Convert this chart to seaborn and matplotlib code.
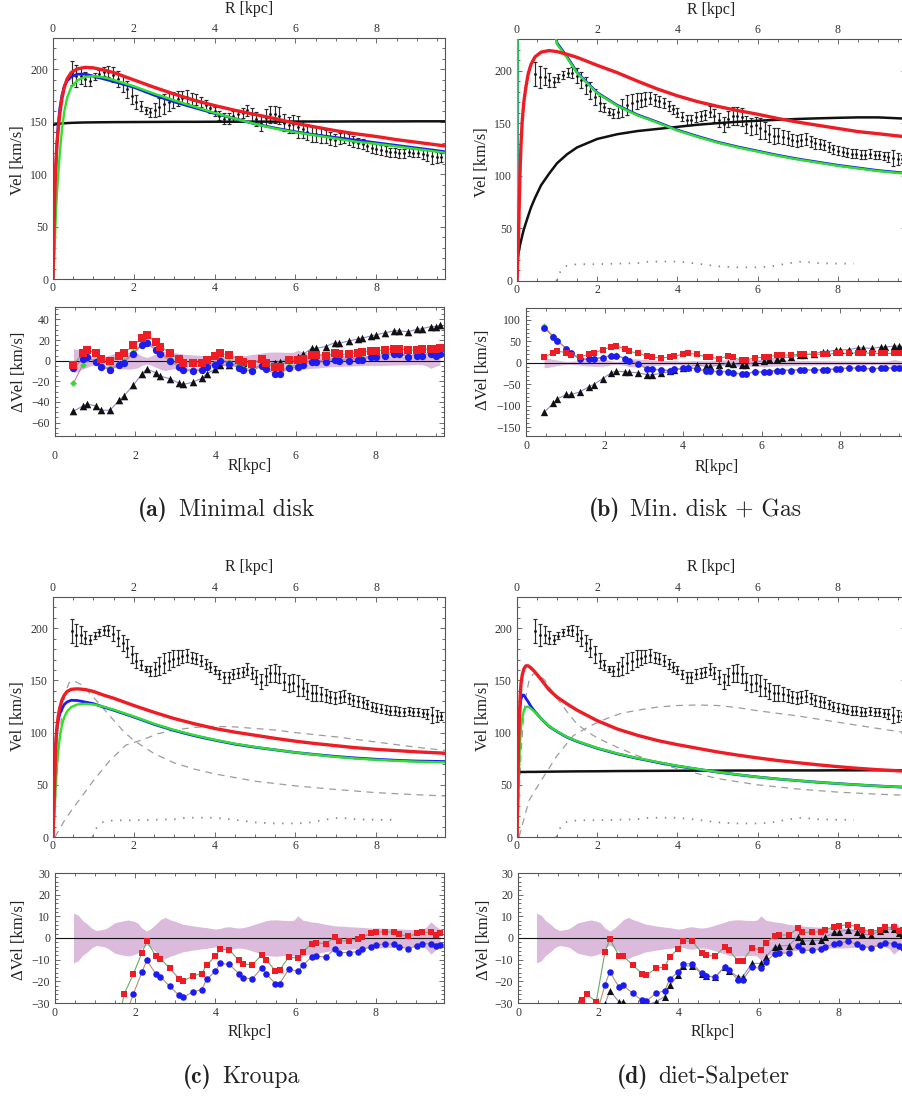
import matplotlib
matplotlib.use("Agg")
import matplotlib.pyplot as plt
import seaborn as sns
from matplotlib.ticker import MultipleLocator

# ---------------- observed rotation curve (shared by all panels) ----------------
R_OBS = [0.46, 0.58, 0.69, 0.80, 0.92, 1.03, 1.15, 1.26, 1.37, 1.49, 1.60, 1.72, 1.83, 1.95,
         2.06, 2.17, 2.29, 2.40, 2.52, 2.63, 2.75, 2.86, 2.98, 3.09, 3.20, 3.32, 3.43, 3.55,
         3.66, 3.78, 3.89, 4.00, 4.12, 4.23, 4.35, 4.46, 4.58, 4.69, 4.81, 4.92, 5.03, 5.15,
         5.26, 5.38, 5.49, 5.60, 5.72, 5.83, 5.95, 6.06, 6.18, 6.29, 6.40, 6.52, 6.63, 6.75,
         6.86, 6.97, 7.09, 7.20, 7.32, 7.43, 7.55, 7.66, 7.77, 7.89, 8.00, 8.12, 8.23, 8.35,
         8.46, 8.57, 8.69, 8.80, 8.92, 9.03, 9.15, 9.26, 9.37, 9.49, 9.60]
V_OBS = [197, 194, 194, 191, 189, 193, 196, 198, 198, 195, 191, 186, 181, 175,
         169, 165, 161, 159, 161, 164, 167, 169, 171, 172, 173, 174, 172, 171,
         169, 166, 163, 160, 156, 153, 153, 156, 157, 158, 161, 157, 153, 149,
         154, 157, 157, 156, 149, 147, 148, 145, 143, 140, 138, 138, 137, 136,
         134, 133, 134, 135, 133, 131, 130, 129, 127, 125, 124, 123, 122, 121,
         121, 120, 120, 121, 120, 120, 119, 118, 117, 116, 116]
E_OBS = [11.5, 10.5, 8, 6.5, 4.5, 3.5, 3.8, 4.2, 5.5, 7, 7.5, 8, 8.3, 7.8,
         7, 4.5, 3.2, 4.5, 6.5, 8.5, 9.5, 8.5, 7.8, 7, 6.3, 6, 5.6, 5.3,
         5, 4.8, 4.4, 4.1, 4.4, 5, 5.2, 4.8, 4.6, 4.8, 5.3, 6, 6.6, 7.3,
         8, 8.3, 8.4, 8.3, 8.1, 8, 8.2, 10.2, 8.2, 7.8, 7.4, 7.2, 6.8, 6.3,
         6, 5.6, 5.5, 5.4, 5.2, 5.1, 5, 4.9, 4.7, 4.6, 4.6, 4.6, 4.5, 4.4,
         4.3, 4.2, 4.1, 4, 3.8, 3.6, 4, 5, 7.5, 5.5, 4.2]

# ---------------- model curves ----------------
CURVE_R = [0, 0.02, 0.04, 0.06, 0.08, 0.1, 0.13, 0.17, 0.22, 0.28, 0.35, 0.45, 0.6, 0.8,
           1.0, 1.25, 1.5, 2.0, 2.5, 3.0, 3.5, 4.0, 4.5, 5.0, 5.5, 6.0, 6.5, 7.0, 7.5,
           8.0, 8.5, 9.0, 9.7]

A_RED = [0, 40, 75, 100, 117, 130, 143, 158, 172, 183, 191, 197, 200.5, 202, 201.5, 199.5,
         197, 190, 183, 176.5, 170.5, 165.5, 161, 157, 153, 148.5, 145, 141.5, 138.5, 136,
         133, 130.5, 127]
A_BLUE = [0, 45, 80, 100, 115, 130, 148, 163, 175, 184, 189, 193, 195.5, 195.5, 193.6, 191,
          188.5, 183, 175.5, 169, 163.5, 158, 153, 148, 144, 140.5, 137.5, 135, 132.5, 130,
          127.5, 125, 121.5]
A_GREEN = [0, 12, 28, 50, 69, 83, 100, 121, 142, 160, 173, 183, 189.5, 193, 193.6, 192.5,
           190, 184, 177, 170.5, 164.5, 158.5, 153, 148, 143.5, 140, 137, 134, 131, 129,
           126.5, 124, 120.5]
A_BLACK = [147, 147.2, 147.4, 147.6, 147.7, 147.8, 148, 148.2, 148.4, 148.6, 148.8, 149,
           149.2, 149.4, 149.5, 149.6, 149.7, 149.8, 149.9, 150, 150, 150.1, 150.1, 150.2,
           150.2, 150.3, 150.3, 150.3, 150.4, 150.4, 150.4, 150.5, 150.5]

B_RED = [0, 22, 46, 80, 109, 130, 152, 170, 184, 197, 206, 213, 217.5, 219, 218, 215.5,
         212.5, 205, 198, 190, 182.5, 176, 170.5, 166, 162, 158.5, 154.5, 151, 148, 145,
         142, 140, 137]
B_BLUE = [0, 300, 600, 650, 650, 640, 620, 580, 530, 480, 430, 380, 320, 262, 226, 213,
          198, 179, 167, 158, 151, 143.5, 137.5, 132, 127.5, 123.5, 119.5, 116, 113, 110,
          107.5, 105, 102.5]
B_GREEN = [0, 290, 590, 640, 640, 630, 610, 570, 520, 470, 420, 372, 315, 260, 225, 212,
           197.5, 178.5, 166.5, 157.5, 150.5, 143, 137, 131.5, 127, 123, 119, 115.5, 112.5,
           109.5, 107, 104.5, 102]
B_BLACK = [17, 22, 27, 31, 35, 38, 43, 49, 55, 62, 70, 79, 91, 102, 112, 120.5, 127, 135,
           139.5, 142.5, 144.5, 146.5, 148.5, 150, 151.3, 152.3, 153.2, 154, 154.6, 155.1,
           155.5, 155.5, 154.3]

C_RED = [0, 28, 51, 78, 96, 106, 116, 124, 131, 136, 139.5, 141.5, 142, 141.3, 139.5, 136,
         133, 126, 119.5, 113.5, 108.5, 104, 100.5, 97.5, 94.5, 91.8, 89.5, 87.5, 85.5, 84,
         82.8, 81.6, 80.3]
C_BLUE = [0, 40, 64, 84, 96, 104, 112, 118, 123, 127, 129.5, 131, 130.8, 129.3, 127.8,
          124.5, 121.5, 115, 108, 102, 97, 92.8, 89, 86, 83.5, 81, 79, 77.2, 75.7, 74.5,
          73.5, 72.8, 72.3]
C_GREEN = [0, 10, 25, 42, 57, 70, 83, 96, 107, 115, 120.5, 124.5, 127, 127.6, 127, 125,
           122, 115.5, 108.5, 102.5, 97.5, 93.2, 89.4, 86.3, 83.6, 81, 78.8, 76.8, 75.2, 74,
           73, 72.2, 71.5]

D_RED = [0, 52, 92, 115, 135, 147, 155, 161, 164, 164, 162, 158, 151, 141, 134, 127.5,
         121.5, 111.5, 103.5, 97.5, 92.5, 88.5, 85, 81.5, 78.5, 75.8, 73.3, 71.2, 69.2,
         67.4, 65.8, 64.5, 63]
D_BLUE = [0, 60, 98, 115, 126, 132, 136, 136, 133, 129.5, 125, 120, 113.5, 106, 101, 95.5,
          91.5, 85, 79.7, 75.3, 71.5, 68, 65, 62.2, 59.7, 57.5, 55.6, 54, 52.5, 51.2, 50,
          48.9, 47.6]
D_GREEN = [0, 14, 48, 76, 94, 105, 114, 121, 124.5, 125, 123, 119.5, 113.5, 106.3, 101.3,
           95.8, 91.8, 85.3, 80, 75.6, 71.8, 68.2, 65.2, 62.3, 59.8, 57.5, 55.6, 54, 52.5,
           51.2, 50, 48.9, 47.6]
D_BLACK = [62.2, 62.2, 62.2, 62.2, 62.3, 62.3, 62.3, 62.3, 62.3, 62.4, 62.4, 62.4, 62.5,
           62.6, 62.7, 62.8, 62.9, 63, 63.2, 63.3, 63.4, 63.5, 63.6, 63.6, 63.7, 63.7, 63.8,
           63.8, 63.8, 63.9, 63.9, 64, 64]

# stellar bulge / disk components (dashed) and gas (dotted)
BULGE_R = [0, 0.05, 0.1, 0.15, 0.2, 0.3, 0.4, 0.5, 0.7, 1.0, 1.25, 1.5, 1.75, 2.0, 2.5,
           3.0, 3.5, 4.0, 5.0, 6.0, 7.0, 8.0, 9.0, 9.7]
C_BULGE = [0, 30, 60, 88, 110, 138, 148, 150, 146, 134, 123, 112, 101, 92.5, 80, 71, 65,
           60.5, 53.5, 49, 45.5, 42.5, 40.5, 39.3]
D_BULGE = [0, 40, 80, 108, 130, 150, 156, 157, 150, 133, 120, 108, 101, 95, 86, 78, 71,
           65.5, 56, 50, 46, 43, 41, 40]
DISK_R = [0.05, 0.3, 0.6, 1.0, 1.4, 1.8, 2.2, 2.6, 3.0, 3.5, 4.0, 4.5, 5.0, 5.5, 6.0, 6.5,
          7.0, 7.5, 8.0, 8.5, 9.0, 9.7]
C_DISK = [0, 17, 33, 54, 73, 88, 93, 99, 102.5, 105, 106, 105.5, 104, 102.5, 100, 98, 96,
          93.5, 91, 88.5, 86, 83]
D_DISK = [0, 35, 54, 78, 97, 106, 113, 118.5, 121.5, 124.5, 126, 126.5, 126, 124, 121,
          118.5, 116, 113, 110, 107, 104, 100]
GAS_R = [0.98, 1.02, 1.1, 1.2, 1.5, 2.0, 2.5, 3.0, 3.3, 3.7, 4.0, 4.5, 5.0, 5.5, 6.0, 6.3,
         6.5, 6.8, 7.1, 7.5, 8.0, 8.4]
GAS_V = [0, 5, 10, 14, 16, 16, 16.5, 17, 18.5, 18.5, 18.5, 16.5, 14, 13, 13, 13.5, 15, 17,
         18.5, 17, 16.5, 16.5]

# ---------------- residuals (observed - model) ----------------
R_RES = [0.46, 0.69, 0.80, 1.03, 1.15, 1.37, 1.60, 1.72, 1.95, 2.17, 2.29, 2.52, 2.63, 2.86,
         3.09, 3.20, 3.43, 3.66, 3.78, 4.00, 4.12, 4.35, 4.58, 4.69, 4.92, 5.15, 5.26, 5.49,
         5.60, 5.83, 6.06, 6.18, 6.40, 6.52, 6.75, 6.97, 7.09, 7.32, 7.55, 7.66, 7.89, 8.00,
         8.23, 8.46, 8.57, 8.80, 9.03, 9.15, 9.37, 9.49, 9.60]

A_RES_RED = [-4, 7, 10.5, 7, 2, -0.7, 4.5, 7, 14.8, 22, 24.5, 18, 13.5, 7.7, 1.6, -2, -2.3,
             -2, 1, 4.5, 7, 5.5, 1, -1.5, -3, 2, -2, -6, -6, 1, 0.5, 2, 5.5, 5.5, 5, 7, 6,
             6.5, 7.5, 8, 9.5, 9.5, 10.5, 11.5, 11.5, 10, 10.5, 11, 11.5, 11.5, 12]
A_RES_BLUE = [-7, 1.3, 3.5, -1.3, -6, -8.7, -4.6, -2, 6.8, 14.8, 17, 10, 6.8, 0, -6, -9.4,
              -10, -9.4, -6, -4, 0, -3, -7, -9, -10, -5, -8, -13, -13, -7, -6, -4, -1, -1,
              -1.5, 1, 0, 0, 1, 1, 4, 4, 5, 6, 6, 4, 5, 5, 6, 5, 6]
A_RES_GREEN = [-22, -4, 2, 0, -4.5, -7.5, -3.5, -0.5, 8, 16, 19, 11.5, 8, 1.5, -4.5, -8,
               -8.5, -8, -4.5, -2.5, 1.5, -1.5, -5.5, -7.5, -8.5, -3.5, -6.5, -11.5, -11.5,
               -5.5, -4.5, -2.5, 0.5, 0.5, 0, 2.5, 1.5, 1.5, 2.5, 2.5, 5, 5, 6, 7, 7, 5, 6,
               6, 7, 6, 7]
A_RES_BLACK = [-49, -44, -42, -44, -48, -48, -38.5, -34, -24, -12.6, -7.8, -12, -15, -17.5,
               -21.7, -23, -21, -17, -13, -8, -4.5, -4, -3, -2, -2, -1, -1, -2, -1, 2, 4, 6,
               12, 12, 13.7, 17.4, 17, 19, 21, 22, 24, 25, 27, 29, 29, 28, 30.5, 31, 33, 33,
               34.5]

B_RES_RED = [12.5, 24, 27, 24, 18, 14, 20, 23, 30, 37.5, 40, 32, 27, 22, 15.6, 12.5, 12,
             12.5, 15.6, 20, 22.6, 19.5, 14, 12.5, 10, 15.6, 12.5, 6, 6, 12, 12.5, 14, 18,
             18, 18, 20, 19.5, 19.5, 20, 20, 22, 22, 22, 23.4, 23.4, 22, 22, 22, 22, 22, 22]
B_RES_BLUE = [82, 61, 51.5, 32, 22, 8, 8, 8.6, 12, 16.4, 16.4, 10, 4, -3, -15, -15.6, -17,
              -18.8, -15.6, -13, -11, -15, -19.5, -20, -21, -21, -23.4, -27, -27, -21,
              -22.6, -21, -18, -18, -18, -17, -17, -17, -17, -16.4, -15, -14, -13, -12.5,
              -13, -15, -13, -13, -12.5, -12.5, -12.5]
B_RES_GREEN = [85, 62, 52.5, 33, 23, 9, 9, 9.6, 13, 17.4, 17.4, 11, 5, -2, -14, -14.6, -16,
               -17.8, -14.6, -12, -10, -14, -18.5, -19, -20, -20, -22.4, -26, -26, -20,
               -21.6, -20, -17, -17, -17, -16, -16, -16, -16, -15.4, -14, -13, -12, -11.5,
               -12, -14, -12, -12, -11.5, -11.5, -11.5]
B_RES_BLACK = [-116, -95, -84, -74, -74, -68, -56, -51, -37, -23.4, -19.5, -21, -22, -23.4,
               -28, -28, -25, -20, -17, -13, -9.4, -5.5, -8, -8, -6, -1.6, -2, -5.5, -5.5,
               2, 4.7, 8, 10, 12, 14, 18, 19, 21, 26, 26, 29.7, 30, 31, 35, 35, 33.6, 36.7,
               37, 39, 39, 39]

C_RES_RED = [-70, -62, -58, -52, -48, -44, -38, -26, -16.8, -6.7, -1.6, -8.4, -9.5, -14,
             -18.7, -19.9, -17.6, -16.4, -12.5, -8.4, -5.2, -5.5, -10.3, -11.9, -12.5, -7.8,
             -10, -15, -14.8, -8.8, -9.4, -6.4, -2.6, -2.2, -2.6, 0.5, -1.3, -1.3, -0.5, 0.5,
             2.1, 2.6, 3, 2.6, 1.8, 0.7, 2.1, 2.6, 2.6, 1.5, 2.1]
C_RES_BLUE = [-80, -72, -68, -62, -58, -52, -45, -38, -26, -15.6, -10.3, -16.8, -17.9,
              -22.3, -26.4, -27.4, -24.9, -23.8, -19.1, -15.3, -11.7, -12.2, -16.4, -18.4,
              -18.8, -14, -16.4, -21, -21, -14.5, -15.3, -12.5, -8.8, -8.4, -8.8, -5.2,
              -6.7, -6.7, -6.3, -5.2, -4, -3.3, -2.6, -2.9, -4, -4.9, -3.6, -2.6, -2.6,
              -3.6, -3.3]
C_RES_BLACK = [-100, -90, -85, -75, -70, -55, -31.5, -31.8, -42, -36, -35, -42, -44, -48,
               -53, -55, -53, -51, -47, -43, -40, -40, -44, -46, -46, -42, -44, -48, -48,
               -42, -42, -40, -37, -37, -37, -35, -36, -36, -36, -35, -35, -35, -35, -35,
               -36, -37, -36, -35, -35, -36, -36]

D_RES_RED = [-60, -50, -46, -42, -40, -34, -28.7, -26, -29.5, -6.3, -0.5, -8.3, -8.3, -12.5,
             -16.4, -17.3, -14, -13.3, -8.8, -4.9, -1.3, -1.6, -6.7, -8, -8.4, -4, -5.7,
             -10.6, -10.6, -4.7, -5.5, -2.4, 1, 1.5, 1.3, 4.4, 2.6, 2.6, 2.9, 3.8, 5.2, 5.7,
             6.1, 5.2, 3.8, 3, 3.8, 4.9, 4.9, 3.3, 3.5]
D_RES_BLUE = [-90, -80, -75, -68, -64, -58, -50, -44, -36, -21.5, -15.6, -22.7, -21.9,
              -25.6, -28.7, -29.2, -25.6, -24.3, -19.1, -15.6, -11.9, -11.9, -16.2, -17.6,
              -17.9, -13.3, -14.8, -19.5, -19.5, -13.4, -14, -11, -7.2, -6.9, -7, -3.6,
              -5.7, -5.7, -5.2, -4, -2.9, -2.4, -1.6, -2.9, -4, -4.4, -3.2, -2.1, -2.6,
              -3.8, -4.4]
D_RES_BLACK = [-150, -130, -120, -105, -98, -85, -70, -62, -48, -30.5, -24.3, -29.5, -29.5,
               -32, -29.8, -31, -29.5, -27, -21.8, -17.1, -12.9, -12.9, -16.4, -17.6, -18,
               -13.4, -15, -18, -18, -11.7, -11.7, -8.8, -4, -3.6, -3.5, 0.5, -1.3, -1.3,
               -1, 0.5, 2.6, 2.9, 3.8, 2.9, 1.8, 1.5, 3.3, 4.1, 4.1, 2.1, 2]

CAPTION_TAGS = ["(a)", "(b)", "(c)", "(d)"]
CAPTION_NAMES = ["Minimal disk", "Min. disk + Gas", "Kroupa", "diet-Salpeter"]

# ---------------- styling ----------------
sns.set_style("white")
plt.rcParams["font.family"] = ["Liberation Serif", "DejaVu Serif"]
plt.rcParams["axes.unicode_minus"] = True

RED, BLUE, GREEN, BLACK = "#ee1c24", "#1c1cf0", "#2ee02e", "#111111"
FRAME = "#555555"
BAND = "#dbbadc"
LINE_RED, LINE_BLUE, LINE_GREEN, LINE_BLACK = "#6aaa6a", "#b8906c", "#c77aa8", "#8c8cd0"
W, H = 902, 1100

fig = plt.figure(figsize=(W / 100, H / 100), dpi=100)
fig.patch.set_facecolor("white")
renderer = fig.canvas.get_renderer()


def px_box(left, top, right, bottom):
    return [left / W, 1 - bottom / H, (right - left) / W, (bottom - top) / H]


def fig_text(x, y, s, **kw):
    return fig.text(x / W, 1 - y / H, s, ha="center", va="center", color="#222222", **kw)


def caption(xc, y, tag, name, size=17):
    """Bold tag followed by the roman name, centred as one line."""
    t_tag = fig.text(0, 1 - y / H, tag, family="cmb10", fontsize=size, ha="left",
                     va="center", color="#222222")
    t_name = fig.text(0, 1 - y / H, name, family="cmr10", fontsize=size, ha="left",
                      va="center", color="#222222")
    w_tag = t_tag.get_window_extent(renderer).width
    w_name = t_name.get_window_extent(renderer).width
    gap = 0.45 * size * 100 / 72
    left = xc - (w_tag + gap + w_name) / 2
    t_tag.set_x(left / W)
    t_name.set_x((left + w_tag + gap) / W)


def style_axes(ax, xmax, ylim, ymaj, ymin, labeltop, xpad):
    ax.set_xlim(0, xmax)
    ax.set_ylim(*ylim)
    ax.xaxis.set_major_locator(MultipleLocator(2))
    ax.xaxis.set_minor_locator(MultipleLocator(0.5))
    ax.yaxis.set_major_locator(MultipleLocator(ymaj))
    ax.yaxis.set_minor_locator(MultipleLocator(ymin))
    ax.tick_params(which="both", direction="in", top=True, right=True, bottom=True,
                   left=True, color=FRAME, width=0.6, labelcolor="#333333", labelsize=8.5)
    ax.tick_params(which="major", length=3.8)
    ax.tick_params(which="minor", length=1.9)
    ax.tick_params(axis="x", labeltop=labeltop, labelbottom=True, pad=xpad)
    ax.tick_params(axis="y", pad=3.5)
    for sp in ax.spines.values():
        sp.set_color(FRAME)
        sp.set_linewidth(0.8)
    ax.set_xlabel("")
    ax.set_ylabel("")
    ax.set_facecolor("none")


def line(ax, x, y, color, lw, **kw):
    sns.lineplot(x=x, y=y, ax=ax, color=color, lw=lw, estimator=None, sort=False,
                 legend=False, **kw)


def draw_top(ax, curves, bulge=None, disk=None, gas=False):
    ax.errorbar(R_OBS, V_OBS, yerr=E_OBS, fmt="none", ecolor="#2a2a2a", elinewidth=0.85,
                capsize=1.3, capthick=0.85, zorder=2)
    sns.scatterplot(x=R_OBS, y=V_OBS, ax=ax, color="#111111", s=4, linewidth=0, zorder=3,
                    legend=False)
    dash = (0, (5.5, 4.5))
    if bulge is not None:
        line(ax, BULGE_R, bulge, "#9c9c9c", 0.9, linestyle=dash, zorder=2)
    if disk is not None:
        line(ax, DISK_R, disk, "#9c9c9c", 0.9, linestyle=dash, zorder=2)
    if gas:
        line(ax, GAS_R, GAS_V, "#8a8a8a", 1.3, linestyle=(0, (0.8, 4.2)), zorder=2)
    for vals, color, lw in curves:
        line(ax, CURVE_R, vals, color, lw, zorder=4)


def draw_resid(ax, series):
    ax.fill_between(R_OBS, [-e for e in E_OBS], E_OBS, color=BAND, lw=0, zorder=1)
    ax.axhline(0, color="#111111", lw=0.8, zorder=2)
    for vals, mcolor, marker, size, lcolor in series:
        line(ax, R_RES, vals, lcolor, 0.8, zorder=3)
    for vals, mcolor, marker, size, lcolor in series:
        sns.scatterplot(x=R_RES, y=vals, ax=ax, color=mcolor, marker=marker, s=size,
                        linewidth=0, zorder=4, legend=False)


# ---------------- panel geometry (pixels) ----------------
XMAX = 9.7

panels = [
    dict(top_x=(53, 445), top=(38, 279), res_x=(55, 444), res=(307, 436),
         res_ylim=(-73, 52), res_maj=20, res_min=5, res_pad=10,
         curves=[(A_BLACK, BLACK, 1.8), (A_BLUE, BLUE, 2.0), (A_GREEN, GREEN, 1.7),
                 (A_RED, RED, 2.4)],
         bulge=None, disk=None, gas=False,
         series=[(A_RES_BLACK, BLACK, "^", 30, LINE_BLACK),
                 (A_RES_GREEN, GREEN, "D", 12, LINE_GREEN),
                 (A_RES_BLUE, BLUE, "o", 28, LINE_BLUE),
                 (A_RES_RED, RED, "s", 28, LINE_RED)],
         ylab_x=18, ylab_y=(160, 372), lab_y=(9, 466), cap=(226, 510)),
    dict(top_x=(517, 906), top=(39, 281), res_x=(526, 907), res=(308, 436),
         res_ylim=(-171, 128), res_maj=50, res_min=10, res_pad=3,
         curves=[(B_BLACK, BLACK, 1.8), (B_BLUE, BLUE, 2.0), (B_GREEN, GREEN, 1.7),
                 (B_RED, RED, 2.4)],
         bulge=None, disk=None, gas=True,
         series=[(B_RES_BLACK, BLACK, "^", 28, LINE_BLACK),
                 (B_RES_GREEN, GREEN, "D", 10, LINE_GREEN),
                 (B_RES_BLUE, BLUE, "o", 24, LINE_BLUE),
                 (B_RES_RED, RED, "s", 24, LINE_RED)],
         ylab_x=482, ylab_y=(162, 370), lab_y=(10, 467), cap=(695, 510)),
    dict(top_x=(53, 445), top=(597, 837), res_x=(55, 444), res=(873, 1003),
         res_ylim=(-30, 30), res_maj=10, res_min=2, res_pad=3,
         curves=[(C_BLUE, BLUE, 2.0), (C_GREEN, GREEN, 1.7), (C_RED, RED, 2.4)],
         bulge=C_BULGE, disk=C_DISK, gas=True,
         series=[(C_RES_BLACK, BLACK, "^", 26, LINE_BLACK),
                 (C_RES_BLUE, BLUE, "o", 22, LINE_BLUE),
                 (C_RES_RED, RED, "s", 22, LINE_RED)],
         ylab_x=18, ylab_y=(716, 940), lab_y=(567, 1032), cap=(241, 1077)),
    dict(top_x=(517, 906), top=(597, 837), res_x=(518, 907), res=(873, 1003),
         res_ylim=(-30, 30), res_maj=10, res_min=2, res_pad=3,
         curves=[(D_BLACK, BLACK, 1.8), (D_BLUE, BLUE, 2.0), (D_GREEN, GREEN, 1.7),
                 (D_RED, RED, 2.4)],
         bulge=D_BULGE, disk=D_DISK, gas=True,
         series=[(D_RES_BLACK, BLACK, "^", 26, LINE_BLACK),
                 (D_RES_BLUE, BLUE, "o", 22, LINE_BLUE),
                 (D_RES_RED, RED, "s", 22, LINE_RED)],
         ylab_x=483, ylab_y=(716, 940), lab_y=(567, 1032), cap=(703, 1077)),
]

for p, tag, name in zip(panels, CAPTION_TAGS, CAPTION_NAMES):
    tx0, tx1 = p["top_x"]
    ax_top = fig.add_axes(px_box(tx0, p["top"][0], tx1, p["top"][1]))
    draw_top(ax_top, p["curves"], p["bulge"], p["disk"], p["gas"])
    style_axes(ax_top, XMAX, (0, 230), 50, 10, labeltop=True, xpad=2.2)

    rx0, rx1 = p["res_x"]
    ax_res = fig.add_axes(px_box(rx0, p["res"][0], rx1, p["res"][1]))
    draw_resid(ax_res, p["series"])
    style_axes(ax_res, XMAX, p["res_ylim"], p["res_maj"], p["res_min"], labeltop=False,
               xpad=p["res_pad"])

    fig_text((tx0 + tx1) / 2, p["lab_y"][0], "R [kpc]", fontsize=11.5)
    fig_text(p["ylab_x"], p["ylab_y"][0], "Vel [km/s]", fontsize=12, rotation=90)
    fig_text(p["ylab_x"] + 1, p["ylab_y"][1], "ΔVel [km/s]", fontsize=12, rotation=90)
    fig_text((rx0 + rx1) / 2, p["lab_y"][1], "R[kpc]", fontsize=11.5)
    caption(p["cap"][0], p["cap"][1], tag, name)

fig.savefig("out.png", dpi=100, facecolor="white")
